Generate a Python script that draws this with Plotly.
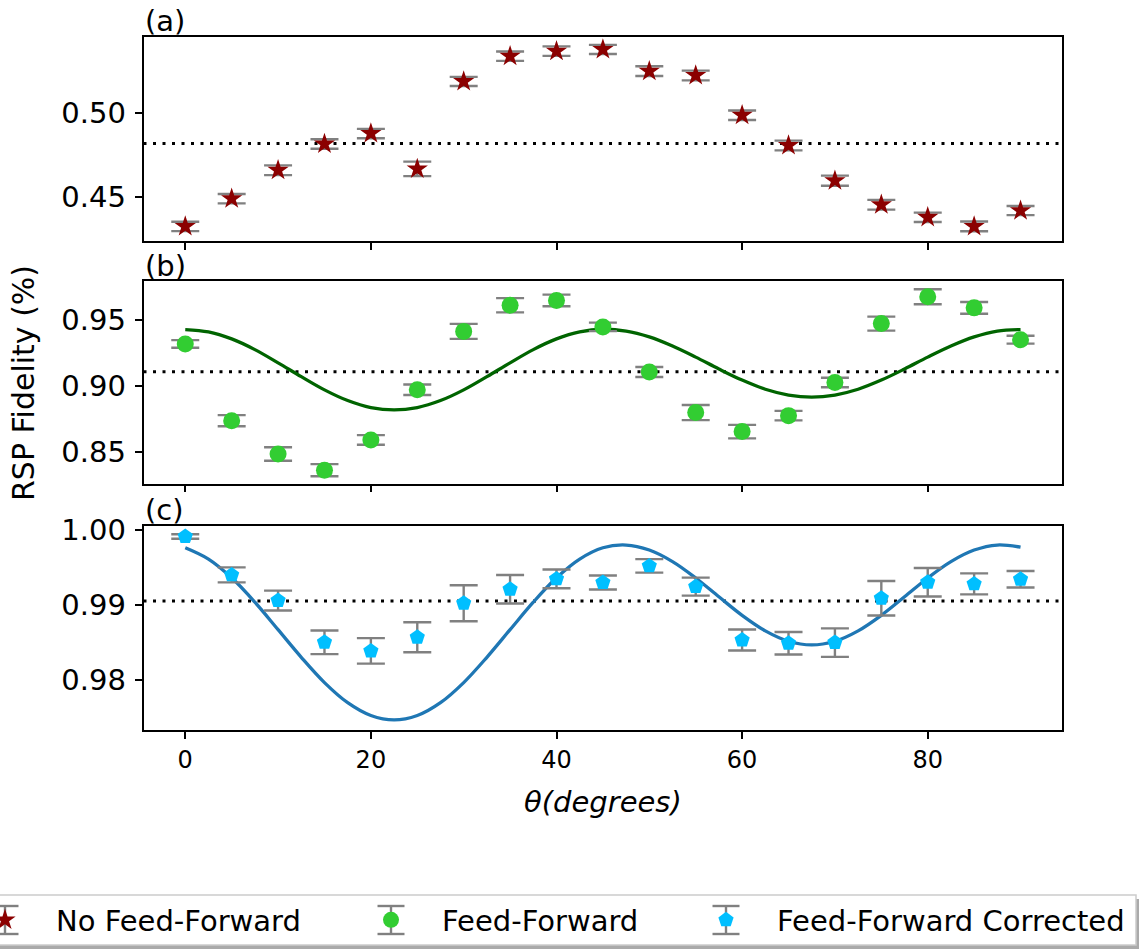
import plotly.graph_objects as go

# ---------------- data ----------------
theta = [0, 5, 10, 15, 20, 25, 30, 35, 40, 45, 50, 55, 60, 65, 70, 75, 80, 85, 90]

no_ff = [0.4323, 0.4488, 0.4657, 0.4813, 0.4875, 0.4665, 0.5185, 0.5335, 0.5365, 0.5375,
         0.5246, 0.5220, 0.4984, 0.4804, 0.4595, 0.4452, 0.4377, 0.4323, 0.4417]
no_ff_err = [0.0028, 0.0028, 0.0029, 0.0028, 0.0028, 0.0043, 0.0027, 0.0028, 0.0028, 0.0027,
             0.0029, 0.0029, 0.0028, 0.0029, 0.0030, 0.0029, 0.0028, 0.0029, 0.0027]

ff = [0.9321, 0.8740, 0.8487, 0.8365, 0.8594, 0.8974, 0.9416, 0.9614, 0.9650, 0.9450,
      0.9108, 0.8801, 0.8657, 0.8778, 0.9029, 0.9475, 0.9678, 0.9594, 0.9353]
ff_err = [0.0029, 0.0042, 0.0051, 0.0046, 0.0036, 0.0040, 0.0057, 0.0054, 0.0044, 0.0032,
          0.0038, 0.0057, 0.0051, 0.0036, 0.0036, 0.0053, 0.0057, 0.0044, 0.0030]

ffc = [0.99911, 0.99400, 0.99058, 0.98502, 0.98387, 0.98569, 0.99022, 0.99209, 0.99347, 0.99298,
       0.99520, 0.99244, 0.98533, 0.98489, 0.98498, 0.99089, 0.99302, 0.99280, 0.99342]
ffc_err = [0.0003, 0.0010, 0.00133, 0.00158, 0.0017, 0.0020, 0.0024, 0.0019, 0.00124, 0.00093,
           0.0009, 0.0012, 0.0014, 0.0015, 0.0019, 0.0023, 0.0019, 0.0014, 0.0011]

# fitted curves, every 2.5 degrees
fit_theta = [0, 2.5, 5, 7.5, 10, 12.5, 15, 17.5, 20, 22.5, 25, 27.5, 30, 32.5, 35, 37.5, 40, 42.5,
             45, 47.5, 50, 52.5, 55, 57.5, 60, 62.5, 65, 67.5, 70, 72.5, 75, 77.5, 80, 82.5,
             85, 87.5, 90]
fit_b = [0.9430, 0.9412, 0.9359, 0.9278, 0.9178, 0.9073, 0.8973, 0.8892, 0.8839, 0.8821,
         0.8839, 0.8892, 0.8973, 0.9073, 0.9178, 0.9278, 0.9359, 0.9412, 0.9432, 0.9418,
         0.9374, 0.9305, 0.9221, 0.9131, 0.9047, 0.8978, 0.8934, 0.8918, 0.8934, 0.8978,
         0.9047, 0.9131, 0.9221, 0.9305, 0.9374, 0.9418, 0.9430]
fit_c = [0.99762, 0.99611, 0.99361, 0.99036, 0.98670, 0.98302, 0.97965, 0.97697, 0.97526,
         0.97467, 0.97526, 0.97697, 0.97965, 0.98302, 0.98670, 0.99036, 0.99361, 0.99611,
         0.99762, 0.99798, 0.99731, 0.99577, 0.99359, 0.99108, 0.98861, 0.98654, 0.98516,
         0.98467, 0.98516, 0.98654, 0.98861, 0.99108, 0.99359, 0.99577, 0.99731, 0.99798,
         0.99769]

legend_names = ["No Feed-Forward", "Feed-Forward", "Feed-Forward Corrected"]
panel_labels = ["(a)", "(b)", "(c)"]
x_ticks = [0, 20, 40, 60, 80]

mean_a = sum(no_ff) / len(no_ff)
mean_b = sum(ff) / len(ff)
mean_c = sum(ffc) / len(ffc)

# ---------------- layout helpers ----------------
W, H = 1139, 951
FONT = "DejaVu Sans"


def fx(p):
    return p / W


def fy(p):
    return 1 - p / H


x_dom = [fx(143.5), fx(1062.3)]
y_doms = [[fy(240.7), fy(36.5)], [fy(483.5), fy(281.2)], [fy(730), fy(525.6)]]
y_ranges = [[0.4238, 0.5452], [0.8264, 0.9796], [0.97333, 1.00057]]
y_dticks = [0.05, 0.05, 0.01]

ERR_COLOR = "#808080"

fig = go.Figure()

fig.add_trace(go.Scatter(
    x=theta, y=no_ff, mode="markers", name=legend_names[0],
    marker=dict(symbol="star", size=16, color="#8B0000", line=dict(width=0)),
    error_y=dict(type="data", array=no_ff_err, visible=True, color=ERR_COLOR, thickness=2.4, width=14),
    xaxis="x", yaxis="y", legend="legend"))

fig.add_trace(go.Scatter(
    x=fit_theta, y=fit_b, mode="lines", showlegend=False,
    line=dict(color="#006400", width=3.3, shape="spline"), xaxis="x2", yaxis="y2"))
fig.add_trace(go.Scatter(
    x=theta, y=ff, mode="markers", name=legend_names[1],
    marker=dict(symbol="circle", size=17, color="#32CD32", line=dict(width=0)),
    error_y=dict(type="data", array=ff_err, visible=True, color=ERR_COLOR, thickness=2.4, width=14),
    xaxis="x2", yaxis="y2", legend="legend2"))

fig.add_trace(go.Scatter(
    x=fit_theta, y=fit_c, mode="lines", showlegend=False,
    line=dict(color="#1f77b4", width=3.3, shape="spline"), xaxis="x3", yaxis="y3"))
fig.add_trace(go.Scatter(
    x=theta, y=ffc, mode="markers", name=legend_names[2],
    marker=dict(symbol="pentagon", size=16, color="#00BFFF", line=dict(width=0)),
    error_y=dict(type="data", array=ffc_err, visible=True, color=ERR_COLOR, thickness=2.4, width=14),
    xaxis="x3", yaxis="y3", legend="legend3"))

axis_common = dict(showline=True, linecolor="black", linewidth=1.6, mirror=True,
                   ticks="outside", ticklen=7, tickwidth=1.5, tickcolor="black",
                   showgrid=False, zeroline=False)

layout = dict(
    width=W, height=H,
    margin=dict(l=0, r=0, t=0, b=0, autoexpand=False),
    paper_bgcolor="white", plot_bgcolor="white",
    font=dict(family=FONT, color="black"),
)

for i in range(3):
    sfx = "" if i == 0 else str(i + 1)
    layout["xaxis" + sfx] = dict(
        axis_common, domain=x_dom, range=[-4.5, 94.5], tickvals=x_ticks,
        showticklabels=(i == 2), tickfont=dict(size=24, family=FONT),
        anchor="y" + sfx)
    layout["yaxis" + sfx] = dict(
        axis_common, domain=y_doms[i], range=y_ranges[i], dtick=y_dticks[i],
        tickformat=".2f", tickfont=dict(size=29, family=FONT), ticklabelstandoff=3,
        anchor="x" + sfx)

# legends (one per entry so each sits where the reference puts it)
leg_icon_x = [5, 391, 726]
for i, key in enumerate(["legend", "legend2", "legend3"]):
    layout[key] = dict(
        x=fx(leg_icon_x[i] - 51), xanchor="left", y=fy(920), yanchor="middle",
        bgcolor="rgba(0,0,0,0)", borderwidth=0, itemwidth=92,
        font=dict(size=29, family=FONT, color="black"), orientation="v")

shapes = []
# mean (dotted) lines
for i, m in enumerate([mean_a, mean_b, mean_c]):
    sfx = "" if i == 0 else str(i + 1)
    shapes.append(dict(type="line", xref="x" + sfx + " domain", yref="y" + sfx,
                       x0=0, x1=1, y0=m, y1=m, layer="below",
                       line=dict(color="black", width=3, dash="3px,6.5px")))

# legend frame with shadow
shapes.append(dict(type="rect", xref="paper", yref="paper", layer="above",
                   x0=fx(-10 + 3), x1=fx(1136 + 3), y0=fy(945 + 4), y1=fy(895 + 4),
                   fillcolor="rgba(100,100,100,0.55)", line=dict(width=0)))
shapes.append(dict(type="rect", xref="paper", yref="paper", layer="above",
                   x0=fx(-10), x1=fx(1136), y0=fy(945), y1=fy(895),
                   fillcolor="white", line=dict(color="#cccccc", width=1.5)))
# error-bar glyphs of the legend keys
for xi in leg_icon_x:
    shapes.append(dict(type="line", xref="paper", yref="paper", layer="above",
                       x0=fx(xi), x1=fx(xi), y0=fy(906), y1=fy(934),
                       line=dict(color=ERR_COLOR, width=2.4)))
    for yy in (906, 934):
        shapes.append(dict(type="line", xref="paper", yref="paper", layer="above",
                           x0=fx(xi - 13.5), x1=fx(xi + 13.5), y0=fy(yy), y1=fy(yy),
                           line=dict(color=ERR_COLOR, width=2.4)))
layout["shapes"] = shapes

annotations = []
for lab, ytop in zip(panel_labels, [21, 266, 510]):
    annotations.append(dict(text=lab, xref="paper", yref="paper", x=fx(143), y=fy(ytop),
                            xanchor="left", yanchor="middle", showarrow=False,
                            font=dict(size=29, family=FONT)))
annotations.append(dict(text="RSP Fidelity (%)", xref="paper", yref="paper",
                        x=fx(24), y=fy(383), textangle=-90, xanchor="center", yanchor="middle",
                        showarrow=False, font=dict(size=30, family=FONT)))
annotations.append(dict(text="<i>θ(degrees)</i>", xref="paper", yref="paper",
                        x=fx(603), y=fy(802), xanchor="center", yanchor="middle",
                        showarrow=False, font=dict(size=29, family=FONT)))
layout["annotations"] = annotations

fig.update_layout(**layout)
fig.write_html("out.html")
